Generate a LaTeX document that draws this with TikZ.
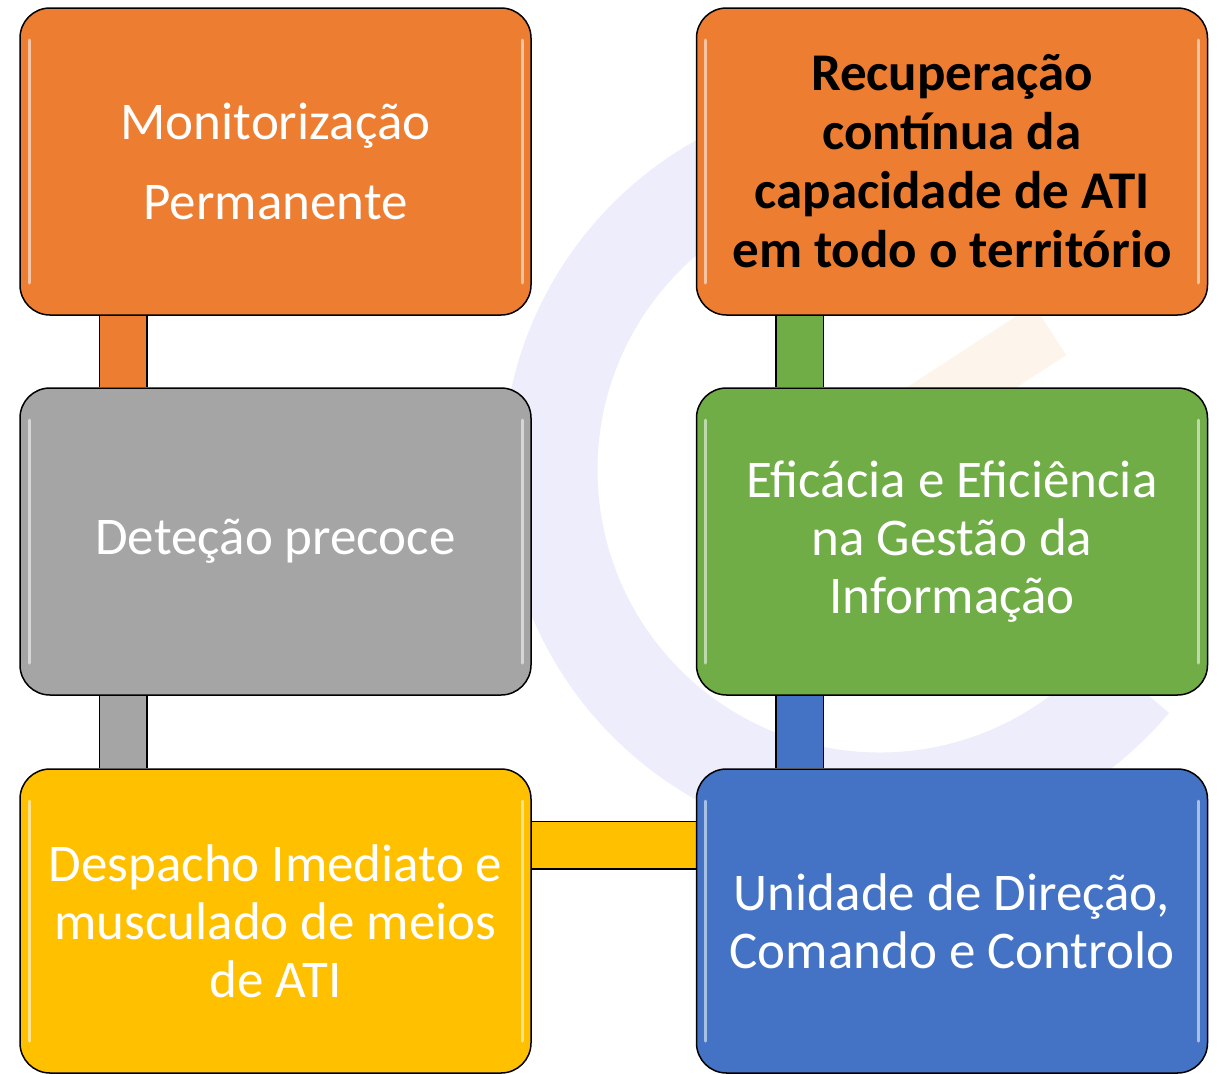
\documentclass[tikz,border=0pt]{standalone}
\usepackage{fontspec}
\setmainfont{Carlito}
\usetikzlibrary{backgrounds}
\definecolor{orgc}{HTML}{ED7D31}
\definecolor{gryc}{HTML}{A5A5A5}
\definecolor{ylwc}{HTML}{FFC000}
\definecolor{grnc}{HTML}{70AD47}
\definecolor{bluc}{HTML}{4472C4}
\definecolor{wmark}{RGB}{222,222,248}
\definecolor{wmorg}{RGB}{252,235,215}
\tikzset{
  box/.style={draw=black, line width=1.5pt, rounded corners=30pt,
    minimum width=511pt, minimum height=307pt, inner sep=0pt,
    align=center, text=white, font=\fontsize{53}{58}\selectfont,
    path picture={
      \draw[white, opacity=.55, line width=3pt, line cap=round]
        ([xshift=9pt,yshift=-32pt]path picture bounding box.north west) --
        ([xshift=9pt,yshift=32pt]path picture bounding box.south west);
      \draw[white, opacity=.55, line width=3pt, line cap=round]
        ([xshift=-9pt,yshift=-32pt]path picture bounding box.north east) --
        ([xshift=-9pt,yshift=32pt]path picture bounding box.south east);
    }},
  conn/.style={draw=black, line width=1.5pt, double=#1, double distance=46pt}
}
\begin{document}
\begin{tikzpicture}[x=1pt,y=-1pt]
\useasboundingbox (0,0) rectangle (1219,1074);
\node[box, fill=orgc, font=\fontsize{53}{80}\selectfont] (mon) at (275.5,161.5) {Monitorização\\Permanente};
\node[box, fill=orgc, text=black, font=\fontsize{53}{59}\selectfont\bfseries] (rec) at (952,161.5) {Recuperação\\contínua da\\capacidade de ATI\\em todo o território};
\node[box, fill=gryc] (det) at (275.5,541.5) {Deteção precoce};
\node[box, fill=grnc] (efi) at (952,541.5) {Eficácia e Eficiência\\na Gestão da\\Informação};
\node[box, fill=ylwc, minimum height=304pt] (desp) at (275.5,921) {Despacho Imediato e\\musculado de meios\\de ATI};
\node[box, fill=bluc, minimum height=304pt] (unid) at (952,921) {Unidade de Direção,\\Comando e Controlo};
\begin{scope}[on background layer]
  \draw[wmark, line width=95pt, opacity=.55] (880,470) ++(40:330) arc[start angle=40, end angle=320, radius=330];
  \draw[wmorg, line width=60pt, opacity=.5] (850,460) -- (1050,330);
  \draw[conn=orgc] ([xshift=104pt]mon.south west) -- ([xshift=104pt]det.north west);
  \draw[conn=gryc] ([xshift=104pt]det.south west) -- ([xshift=104pt]desp.north west);
  \draw[conn=grnc] ([xshift=104pt]rec.south west) -- ([xshift=104pt]efi.north west);
  \draw[conn=bluc] ([xshift=104pt]efi.south west) -- ([xshift=104pt]unid.north west);
  \draw[conn=ylwc] ([yshift=76pt]desp.east) -- ([yshift=76pt]unid.west);
\end{scope}
\end{tikzpicture}
\end{document}
